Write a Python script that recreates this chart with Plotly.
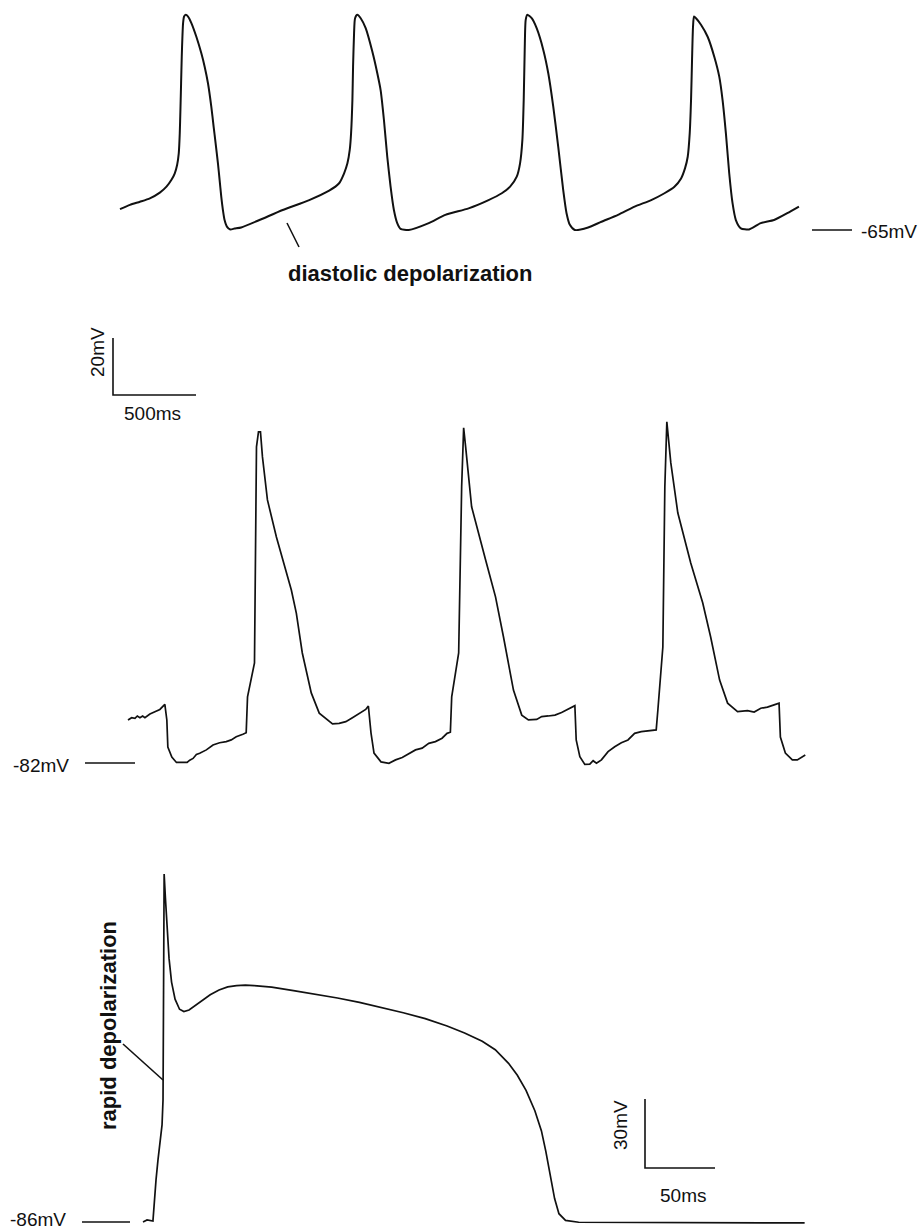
import plotly.graph_objects as go

W, H = 919, 1229

# ---------------- data (ms, mV) ----------------
# Top trace: pacemaker (sinoatrial) action potentials
top_t = [0, 60, 120, 180, 240, 280, 310, 330, 344, 354, 360, 364, 368, 372, 376, 380, 386, 396, 410, 430,
         460, 490, 510, 530, 550, 564, 576, 590, 600, 610, 620, 630, 644, 664, 690, 730, 840, 980, 1140,
         1260, 1320, 1350, 1370, 1384, 1392, 1400, 1404, 1410, 1416, 1430, 1450, 1480, 1520, 1550, 1570,
         1590, 1610, 1630, 1650, 1670, 1690, 1740, 1860, 1960, 2100, 2220, 2300, 2350, 2390, 2410, 2424,
         2432, 2438, 2444, 2454, 2480, 2510, 2550, 2580, 2610, 2640, 2670, 2690, 2710, 2740, 2820, 2900,
         3000, 3100, 3200, 3280, 3340, 3380, 3404, 3420, 3432, 3440, 3446, 3452, 3458, 3470, 3500, 3540,
         3580, 3610, 3630, 3650, 3670, 3690, 3710, 3740, 3790, 3860, 3940, 4020, 4090]
top_v = [-57.7, -56.2, -55.1, -53.9, -51.9, -49.8, -47.4, -45.1, -42.2, -38.1, -31.1, -22.9, -13.5, -4.2,
         2.8, 7.6, 9.9, 10.5, 9.9, 7.6, 2.8, -3.0, -7.7, -13.5, -21.7, -28.7, -34.6, -41.6, -47.4, -53.3,
         -58.0, -61.5, -63.8, -64.8, -64.5, -64.1, -61.5, -58.0, -54.5,
         -51.2, -48.6, -45.1, -41.6, -36.9, -31.1, -19.4, -7.7, 4.0, 9.3, 10.5, 9.3, 5.8, -2.4, -10.0,
         -15.9, -26.4, -39.3, -49.8, -58.0, -62.6, -64.6, -65.0, -62.6, -59.7, -57.4, -54.5, -52.1, -49.8,
         -46.3, -41.6, -33.4, -19.4, -1.8, 8.7, 10.5, 9.3, 5.8, -1.8, -10.0, -21.7, -35.8, -51.0, -59.1,
         -63.2, -65.0, -64.1, -62.1, -59.7, -56.8, -54.5, -52.1, -49.8, -46.9, -43.3, -39.3, -31.1, -19.4,
         -5.3, 6.4, 9.9, 9.3, 7.0, 2.8, -4.2, -11.2, -19.4, -31.1, -45.1, -55.6, -61.5, -64.4, -64.8,
         -62.6, -61.5, -59.1, -56.8]

# Middle trace: paced action potentials with stimulus steps
mid_t = [0, 22, 42, 56, 72, 88, 102, 132, 162, 192, 222,
         234, 240, 264, 292, 356, 372, 392, 412, 432, 472, 512, 552, 592, 622, 652, 692, 712,
         720, 744, 762, 774, 786, 798, 810, 840, 894, 984, 1014, 1050, 1104, 1152, 1212, 1232, 1272, 1312,
         1352, 1392, 1432, 1448,
         1464, 1482, 1524, 1572, 1612, 1652, 1692, 1732, 1772, 1812, 1852, 1892, 1922, 1942,
         1950, 1980, 1992, 2010, 2022, 2034, 2070, 2154, 2214, 2262, 2322, 2372, 2412, 2462, 2492, 2532,
         2572, 2612, 2662, 2692,
         2700, 2722, 2752, 2782, 2802, 2822, 2852, 2892, 2932, 2972, 3012, 3052, 3092, 3132, 3182,
         3192, 3222, 3234, 3246, 3270, 3312, 3390, 3462, 3510, 3564, 3612, 3672, 3732, 3772, 3812, 3852,
         3892, 3922,
         3930, 3960, 4002, 4032, 4080]
mid_v = [-66.9, -66.1, -66.3, -65.5, -66.1, -65.5, -66.1, -64.8, -64.0, -63.2, -61.4,
         -66.9, -76.4, -79.9, -81.8, -81.8, -81.0, -80.4, -79.0, -78.6, -77.4, -75.7, -74.9, -74.5, -73.9,
         -72.8, -71.9, -71.4,
         -58.8, -51.8, -46.9, 28.9, 34.2, 34.2, 25.4, 10.3, -2.7, -21.3, -29.4, -43.4, -57.4, -64.5, -67.5,
         -68.3, -68.1, -67.5, -66.1, -64.8, -63.2, -62.0,
         -71.5, -78.5, -81.6, -82.1, -80.9, -80.1, -78.6, -77.4, -76.8, -75.1, -74.5, -73.3, -71.6, -71.2,
         -58.8, -48.3, -43.4, 14.9, 35.6, 28.9, 7.9, -10.7, -23.7, -37.8, -56.4, -65.2, -66.9, -66.7, -65.7,
         -65.5, -65.2, -64.3, -62.8, -61.9,
         -73.9, -79.8, -82.5, -82.4, -81.2, -82.1, -80.9, -78.0, -76.3, -74.9, -73.9, -71.6, -71.0, -70.7,
         -70.4,
         -63.4, -41.3, 14.9, 37.7, 23.3, 5.8, -11.8, -25.8, -37.8, -52.9, -61.0, -64.0, -63.6, -64.1, -62.8,
         -62.4, -61.6, -61.0,
         -72.9, -78.5, -80.9, -80.9, -79.2]

# Bottom trace: ventricular action potential
bot_t = [0, 2.9, 7.1, 7.9, 9.3, 10.7, 12.1, 13.6, 14.3, 14.6, 15.1, 16.0, 17.3, 18.6, 20.4, 22.9, 26.1,
         29.2, 32.9, 37.0, 41.7, 48.0, 54.3, 60.5, 66.8, 73.1, 79.4, 91.9, 107.5, 123.2, 138.9, 154.6,
         170.2, 185.9, 201.6, 217.2, 229.7, 242.3, 251.6, 261.1, 267.4, 273.6, 279.9, 284.6, 287.7, 290.9,
         294.0, 297.1, 301.8, 311.2, 472.6]
bot_v = [-86.0, -85.1, -85.6, -78.6, -67.7, -59.0, -50.3, -43.8, -33.0, 60.0, 65.3, 55.0, 40.3, 28.6,
         18.3, 10.9, 6.5, 5.5, 6.2, 8.0, 10.2, 12.8, 14.9, 16.2, 16.8, 17.0, 16.8, 16.1, 14.6, 13.1, 11.4,
         9.5, 7.3, 5.0, 2.4, -0.8, -3.8, -7.4, -11.1, -17.0, -22.2, -28.8, -37.6, -46.4, -55.2, -65.5,
         -75.8, -82.4, -85.3, -86.1, -86.4]

rest_levels = [-65, -82, -86]          # mV, reference lines
rest_labels = ["-65mV", "-82mV", "-86mV"]
bar_top = [500, 20]                     # ms, mV (top/middle panels)
bar_bot = [50, 30]                      # ms, mV (bottom panel)
bar_top_labels = ["500ms", "20mV"]
bar_bot_labels = ["50ms", "30mV"]
callouts = ["diastolic depolarization", "rapid depolarization"]

# ---------------- geometry (pixels) ----------------
INK = "#111111"
FONT = "Liberation Sans, Arial, sans-serif"
panels = {
    "top": dict(x0=120, y0=230, ppms=83 / 500, ppmv=57 / 20, rest=rest_levels[0]),
    "mid": dict(x0=128, y0=763, ppms=83 / 500, ppmv=57 / 20, rest=rest_levels[1]),
    "bot": dict(x0=143, y0=1222, ppms=70 / 50, ppmv=69 / 30, rest=rest_levels[2]),
}


def t_of(p, px_):
    return (px_ - p["x0"]) / p["ppms"]


def v_of(p, py_):
    return p["rest"] - (py_ - p["y0"]) / p["ppmv"]


def px(x):
    return x / W


def py(y):
    return 1 - y / H


fig = go.Figure()
axes = {"top": ("x", "y"), "mid": ("x2", "y2"), "bot": ("x3", "y3")}
series = {
    "top": (top_t, top_v, 2.0, "spline"),
    "mid": (mid_t, mid_v, 1.7, "linear"),
    "bot": (bot_t, bot_v, 1.7, "linear"),
}
for k, (t, v, lw, shape) in series.items():
    xa, ya = axes[k]
    line = dict(color=INK, width=lw, shape=shape)
    if shape == "spline":
        line["smoothing"] = 0.6
    fig.add_trace(go.Scatter(x=t, y=v, mode="lines", xaxis=xa, yaxis=ya,
                             line=line, hoverinfo="skip", showlegend=False))

# reference level lines
ref_px = {"top": (812, 852), "mid": (85, 135), "bot": (82, 130)}
for k, (a, b) in ref_px.items():
    p = panels[k]
    xa, ya = axes[k]
    fig.add_trace(go.Scatter(x=[t_of(p, a), t_of(p, b)], y=[p["rest"], p["rest"]], mode="lines",
                             xaxis=xa, yaxis=ya, line=dict(color=INK, width=1.6),
                             hoverinfo="skip", showlegend=False))


# scale bars
def add_bar(k, corner_px, corner_py, dms, dmv):
    p = panels[k]
    xa, ya = axes[k]
    tc, vc = t_of(p, corner_px), v_of(p, corner_py)
    fig.add_trace(go.Scatter(x=[tc, tc, tc + dms], y=[vc + dmv, vc, vc], mode="lines",
                             xaxis=xa, yaxis=ya, line=dict(color=INK, width=1.6),
                             hoverinfo="skip", showlegend=False))


add_bar("top", 113, 395, bar_top[0], bar_top[1])
add_bar("bot", 645, 1168, bar_bot[0], bar_bot[1])

# axes ranges so that data map to the pixel geometry
layout_axes = {}
names = {"top": ("xaxis", "yaxis"), "mid": ("xaxis2", "yaxis2"), "bot": ("xaxis3", "yaxis3")}
for k, p in panels.items():
    xn, yn = names[k]
    xd = dict(range=[t_of(p, 0), t_of(p, W)], domain=[0, 1], visible=False, fixedrange=True)
    yd = dict(range=[v_of(p, H), v_of(p, 0)], domain=[0, 1], visible=False, fixedrange=True)
    if k != "top":
        xd.update(overlaying="x", anchor=axes[k][1])
        yd.update(overlaying="y", anchor=axes[k][0])
    layout_axes[xn] = xd
    layout_axes[yn] = yd

# pointer lines for callouts
shapes = [
    dict(type="line", xref="paper", yref="paper", x0=px(287), y0=py(223), x1=px(299), y1=py(247),
         line=dict(color=INK, width=1.6)),
    dict(type="line", xref="paper", yref="paper", x0=px(123), y0=py(1044), x1=px(163), y1=py(1080),
         line=dict(color=INK, width=1.6)),
]

REG = 19
BOLD = 22


def ann(text, x, y, size=REG, bold=False, angle=0, xanchor="center"):
    return dict(text=f"<b>{text}</b>" if bold else text, x=px(x), y=py(y), xref="paper", yref="paper",
                showarrow=False, textangle=angle, xanchor=xanchor, yanchor="middle",
                font=dict(family=FONT, size=size, color=INK))


annotations = [
    ann(callouts[0], 410, 273, BOLD, True),
    ann(bar_top_labels[1], 97, 352, angle=-90),
    ann(bar_top_labels[0], 152, 414),
    ann(rest_labels[0], 859, 231, xanchor="left"),
    ann(rest_labels[1], 41, 765),
    ann(callouts[1], 108, 1026, BOLD, True, angle=-90),
    ann(bar_bot_labels[1], 620, 1125, angle=-90),
    ann(bar_bot_labels[0], 683, 1195),
    ann(rest_labels[2], 38, 1219),
]

fig.update_layout(width=W, height=H, autosize=False, margin=dict(l=0, r=0, t=0, b=0),
                  paper_bgcolor="white", plot_bgcolor="white", showlegend=False,
                  shapes=shapes, annotations=annotations, **layout_axes)

fig.write_html("out.html", config={"displayModeBar": False, "staticPlot": True},
               post_script="document.body.style.margin='0';document.body.style.overflow='hidden';")
